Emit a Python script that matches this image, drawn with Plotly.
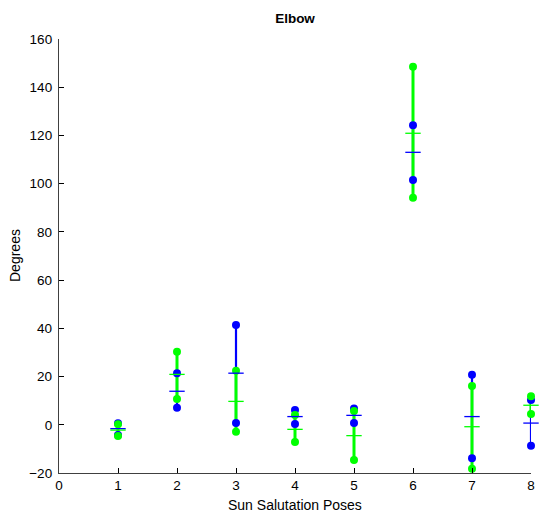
import plotly.graph_objects as go

poses = [1, 2, 3, 4, 5, 6, 7, 8]
blue_high = [0.6, 21.4, 41.4, 6.1, 6.8, 124.2, 20.8, 10.3]
blue_low = [-4.2, 7.1, 0.7, 0.3, 0.7, 101.5, -13.9, -8.7]
blue_mean = [-1.6, 13.9, 21.4, 3.4, 3.9, 113.0, 3.4, 0.7]
green_high = [0.2, 30.3, 22.4, 4.1, 5.7, 148.5, 16.1, 11.8]
green_low = [-4.65, 10.7, -2.9, -7.1, -14.6, 94.2, -18.2, 4.5]
green_mean = [-2.2, 20.9, 9.7, -1.9, -4.5, 120.9, -0.8, 8.1]

BLUE = "#0000ff"
GREEN = "#00ff00"
FONT = "Liberation Sans"

fig = go.Figure()


def seg(xs, lo, hi):
    X, Y = [], []
    for x, a, b in zip(xs, lo, hi):
        X += [x, x, None]
        Y += [a, b, None]
    return X, Y


bx, by = seg(poses, blue_low, blue_high)
gx, gy = seg(poses, green_low, green_high)
fig.add_trace(go.Scatter(x=bx, y=by, mode="lines", line=dict(color=BLUE, width=2.2),
                         cliponaxis=False, showlegend=False))
fig.add_trace(go.Scatter(x=gx, y=gy, mode="lines", line=dict(color=GREEN, width=3),
                         cliponaxis=False, showlegend=False))
fig.add_trace(go.Scatter(x=poses + poses, y=blue_high + blue_low, mode="markers",
                         marker=dict(color=BLUE, size=8), cliponaxis=False, showlegend=False))
fig.add_trace(go.Scatter(x=poses + poses, y=green_high + green_low, mode="markers",
                         marker=dict(color=GREEN, size=8), cliponaxis=False, showlegend=False))
fig.add_trace(go.Scatter(x=poses, y=blue_mean, mode="markers",
                         marker=dict(symbol="line-ew", size=11, line=dict(color=BLUE, width=1.3)),
                         cliponaxis=False, showlegend=False))
fig.add_trace(go.Scatter(x=poses, y=green_mean, mode="markers",
                         marker=dict(symbol="line-ew", size=11, line=dict(color=GREEN, width=1.3)),
                         cliponaxis=False, showlegend=False))

axis_common = dict(showgrid=False, zeroline=False, showline=True, linecolor="#404040", linewidth=1.3,
                   ticks="inside", ticklen=5, tickcolor="#000000", automargin=False,
                   ticklabeloverflow="allow",
                   tickfont=dict(family=FONT, size=13.5, color="#000000"))

W, H = 539, 515
L, R, T, B = 59, 8, 39, 42
PW, PH = W - L - R, H - T - B

fig.update_layout(
    width=W, height=H,
    margin=dict(l=L, r=R, t=T, b=B, autoexpand=False),
    paper_bgcolor="white", plot_bgcolor="white",
    title=dict(text="<b>Elbow</b>", x=(L + PW / 2) / W, xanchor="center", y=1 - 18 / H, yanchor="middle",
               font=dict(family=FONT, size=13.5, color="#000000")),
    xaxis=dict(range=[0, 8], tickvals=list(range(0, 9)), **axis_common),
    yaxis=dict(range=[-20, 160], tickvals=list(range(-20, 161, 20)), ticklabelstandoff=3, **axis_common),
    annotations=[
        dict(text="Sun Salutation Poses", xref="paper", yref="paper", x=0.5, y=-32 / PH,
             xanchor="center", yanchor="middle", showarrow=False,
             font=dict(family=FONT, size=14, color="#000000")),
        dict(text="Degrees", xref="paper", yref="paper", x=-44 / PW, y=0.5, textangle=-90,
             xanchor="center", yanchor="middle", showarrow=False,
             font=dict(family=FONT, size=14, color="#000000")),
    ],
)

fig.write_html("out.html", config={"displayModeBar": False},
               post_script="document.body.style.margin='0px';document.body.style.overflow='hidden';"
                           "document.documentElement.style.overflow='hidden';")
